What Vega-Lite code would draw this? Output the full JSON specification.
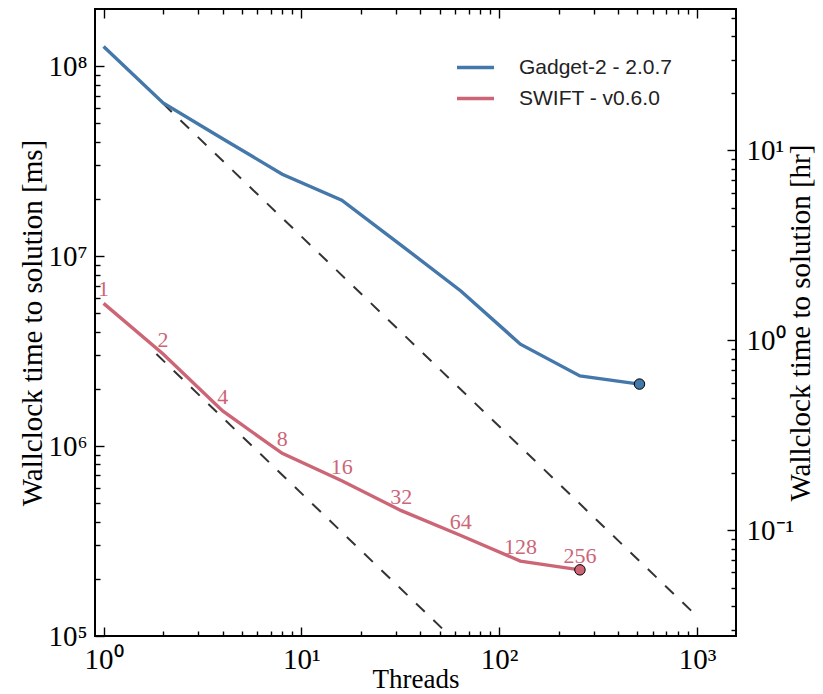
{
  "$schema": "https://vega.github.io/schema/vega-lite/v6.json",
  "width": 641,
  "height": 627,
  "autosize": "none",
  "padding": {"left": 95, "top": 9, "right": 87, "bottom": 58},
  "background": "white",
  "config": {
    "view": {"stroke": "black", "strokeWidth": 2},
    "axis": {
      "domain": false,
      "grid": false,
      "tickColor": "black",
      "tickWidth": 1.4,
      "labelFont": "Liberation Serif",
      "labelFontSize": 29,
      "labelColor": "black",
      "titleFont": "Liberation Serif",
      "titleFontSize": 27,
      "titleFontWeight": "normal",
      "titleColor": "black"
    }
  },
  "datasets": {
    "runs": [
      {"code": "Gadget-2 - 2.0.7", "threads": 1, "ms": 127000000},
      {"code": "Gadget-2 - 2.0.7", "threads": 2, "ms": 64000000},
      {"code": "Gadget-2 - 2.0.7", "threads": 4, "ms": 41500000},
      {"code": "Gadget-2 - 2.0.7", "threads": 8, "ms": 27000000},
      {"code": "Gadget-2 - 2.0.7", "threads": 16, "ms": 19700000},
      {"code": "Gadget-2 - 2.0.7", "threads": 32, "ms": 11400000},
      {"code": "Gadget-2 - 2.0.7", "threads": 64, "ms": 6550000},
      {"code": "Gadget-2 - 2.0.7", "threads": 128, "ms": 3440000},
      {"code": "Gadget-2 - 2.0.7", "threads": 256, "ms": 2340000},
      {"code": "Gadget-2 - 2.0.7", "threads": 512, "ms": 2120000},
      {"code": "SWIFT - v0.6.0", "threads": 1, "ms": 5640000},
      {"code": "SWIFT - v0.6.0", "threads": 2, "ms": 3050000},
      {"code": "SWIFT - v0.6.0", "threads": 4, "ms": 1530000},
      {"code": "SWIFT - v0.6.0", "threads": 8, "ms": 915000},
      {"code": "SWIFT - v0.6.0", "threads": 16, "ms": 657000},
      {"code": "SWIFT - v0.6.0", "threads": 32, "ms": 457000},
      {"code": "SWIFT - v0.6.0", "threads": 64, "ms": 338000},
      {"code": "SWIFT - v0.6.0", "threads": 128, "ms": 248000},
      {"code": "SWIFT - v0.6.0", "threads": 256, "ms": 223000}
    ],
    "ideal": [
      {"line": "Gadget-2 ideal", "threads": 2, "ms": 63500000},
      {"line": "Gadget-2 ideal", "threads": 1000, "ms": 127000},
      {"line": "SWIFT ideal", "threads": 1.85, "ms": 3050000},
      {"line": "SWIFT ideal", "threads": 56.4, "ms": 100000}
    ]
  },
  "layer": [
    {
      "data": {"name": "ideal"},
      "mark": {"type": "line", "color": "#333333", "strokeWidth": 2, "strokeDash": [12, 12], "clip": true},
      "encoding": {
        "x": {"field": "threads", "type": "quantitative", "scale": {"type": "log", "domain": [0.905, 1575], "nice": false}, "axis": null},
        "y": {"field": "ms", "type": "quantitative", "scale": {"type": "log", "domain": [100000, 200000000], "nice": false}, "axis": null},
        "detail": {"field": "line"}
      }
    },
    {
      "data": {"name": "runs"},
      "mark": {"type": "line", "strokeWidth": 3.4, "clip": true},
      "encoding": {
        "x": {"field": "threads", "type": "quantitative", "scale": {"type": "log", "domain": [0.905, 1575], "nice": false},
          "axis": {"orient": "bottom", "values": [1, 10, 100, 1000], "tickSize": -9, "labelPadding": 18,
            "labelExpr": "'10' + ['⁰','¹','²','³'][round(log(datum.value)/LN10)]", "title": "Threads", "titlePadding": -8}},
        "y": {"field": "ms", "type": "quantitative", "scale": {"type": "log", "domain": [100000, 200000000], "nice": false},
          "axis": {"orient": "left", "values": [100000, 1000000, 10000000, 100000000], "tickSize": -9, "labelPadding": 17,
            "labelExpr": "'10' + ['⁰','¹','²','³','⁴','⁵','⁶','⁷','⁸'][round(log(datum.value)/LN10)]", "title": "Wallclock time to solution [ms]", "titleFontSize": 29, "titlePadding": 0}},
        "color": {"field": "code", "type": "nominal",
          "scale": {"domain": ["Gadget-2 - 2.0.7", "SWIFT - v0.6.0"], "range": ["#4477AA", "#CC6677"]},
          "legend": {"orient": "none", "legendX": 360, "legendY": 38, "title": null, "symbolType": "stroke", "symbolSize": 1369,
            "symbolStrokeWidth": 3.4, "labelFont": "Liberation Sans", "labelFontSize": 21, "labelColor": "#222222", "labelOffset": 23, "rowPadding": 0}}
      }
    },
    {
      "data": {"name": "runs"},
      "transform": [{"filter": "(datum.code == 'Gadget-2 - 2.0.7' && datum.threads == 512) || (datum.code == 'SWIFT - v0.6.0' && datum.threads == 256)"}],
      "mark": {"type": "point", "filled": true, "opacity": 1, "stroke": "black", "strokeWidth": 1, "size": 110},
      "encoding": {
        "x": {"field": "threads", "type": "quantitative", "scale": {"type": "log", "domain": [0.905, 1575], "nice": false}, "axis": null},
        "y": {"field": "ms", "type": "quantitative", "scale": {"type": "log", "domain": [100000, 200000000], "nice": false}, "axis": null},
        "color": {"field": "code", "type": "nominal", "scale": {"domain": ["Gadget-2 - 2.0.7", "SWIFT - v0.6.0"], "range": ["#4477AA", "#CC6677"]}, "legend": null}
      }
    },
    {
      "data": {"name": "runs"},
      "transform": [{"filter": "datum.code == 'SWIFT - v0.6.0'"}],
      "mark": {"type": "text", "font": "Liberation Serif", "fontSize": 22, "color": "#CC6677", "align": "center", "baseline": "alphabetic", "dy": -7},
      "encoding": {
        "x": {"field": "threads", "type": "quantitative", "scale": {"type": "log", "domain": [0.905, 1575], "nice": false}, "axis": null},
        "y": {"field": "ms", "type": "quantitative", "scale": {"type": "log", "domain": [100000, 200000000], "nice": false}, "axis": null},
        "text": {"field": "threads", "type": "quantitative", "format": "d"}
      }
    },
    {
      "data": {"name": "runs"},
      "mark": {"type": "point", "opacity": 0},
      "encoding": {
        "x": {"field": "threads", "type": "quantitative", "scale": {"type": "log", "domain": [0.905, 1575], "nice": false},
          "axis": {"orient": "bottom", "values": [2, 3, 4, 5, 6, 7, 8, 9, 20, 30, 40, 50, 60, 70, 80, 90, 200, 300, 400, 500, 600, 700, 800, 900], "tickSize": -5, "labels": false, "title": null}},
        "y": {"field": "ms", "type": "quantitative", "scale": {"type": "log", "domain": [100000, 200000000], "nice": false},
          "axis": {"orient": "left", "values": [200000, 300000, 400000, 500000, 600000, 700000, 800000, 900000, 2000000, 3000000, 4000000, 5000000, 6000000, 7000000, 8000000, 9000000, 20000000, 30000000, 40000000, 50000000, 60000000, 70000000, 80000000, 90000000], "tickSize": -5, "labels": false, "title": null}}
      }
    },
    {
      "data": {"name": "runs"},
      "mark": {"type": "point", "opacity": 0},
      "encoding": {
        "x": {"field": "threads", "type": "quantitative", "scale": {"type": "log", "domain": [0.905, 1575], "nice": false},
          "axis": {"orient": "top", "values": [1, 10, 100, 1000], "tickSize": -9, "labels": false, "title": null}},
        "y": {"field": "ms", "type": "quantitative", "scale": {"type": "log", "domain": [100000, 200000000], "nice": false},
          "axis": {"orient": "right", "values": [360000, 3600000, 36000000], "tickSize": -9, "labelPadding": 19,
            "labelExpr": "'10' + ['⁻¹','⁰','¹'][round(log(datum.value/3600000)/LN10) + 1]",
            "title": "Wallclock time to solution [hr]", "titleFontSize": 29, "titleAngle": 270, "titleBaseline": "top", "titlePadding": -7}}
      }
    },
    {
      "data": {"name": "runs"},
      "mark": {"type": "point", "opacity": 0},
      "encoding": {
        "x": {"field": "threads", "type": "quantitative", "scale": {"type": "log", "domain": [0.905, 1575], "nice": false},
          "axis": {"orient": "top", "values": [2, 3, 4, 5, 6, 7, 8, 9, 20, 30, 40, 50, 60, 70, 80, 90, 200, 300, 400, 500, 600, 700, 800, 900], "tickSize": -5, "labels": false, "title": null}},
        "y": {"field": "ms", "type": "quantitative", "scale": {"type": "log", "domain": [100000, 200000000], "nice": false},
          "axis": {"orient": "right", "values": [108000, 144000, 180000, 216000, 252000, 288000, 324000, 720000, 1080000, 1440000, 1800000, 2160000, 2520000, 2880000, 3240000, 7200000, 10800000, 14400000, 18000000, 21600000, 25200000, 28800000, 32400000, 72000000, 108000000, 144000000, 180000000], "tickSize": -5, "labels": false, "title": null}}
      }
    }
  ],
  "resolve": {"axis": {"x": "independent", "y": "independent"}}
}
